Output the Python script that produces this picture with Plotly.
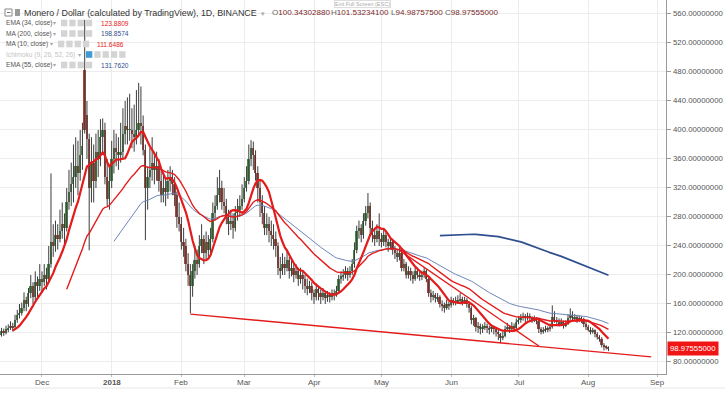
import numpy as np
import pandas as pd
import plotly.graph_objects as go

# ---------------- data (daily XMR candles) ----------------
start_date = "2017-11-09"
opens = [120,122,118,121,117,123,120,125,127,130,128,138,145,148,155,165,160,175,185,170,
         190,185,195,190,200,195,215,245,240,255,250,260,270,265,300,315,325,335,350,340,
         365,483,420,388,320,355,330,370,360,390,400,335,305,330,360,375,370,365,370,395,
         405,400,400,395,390,400,410,405,372,320,335,345,355,345,350,330,310,320,315,330,
         335,325,310,280,270,245,240,215,200,185,205,220,215,240,250,230,245,235,250,285,
         295,310,320,300,295,280,270,275,265,285,290,295,305,320,330,360,375,365,340,320,
         300,285,265,270,260,255,250,240,210,205,215,210,220,205,210,200,205,195,200,195,
         185,180,185,175,170,180,175,170,175,168,172,170,175,172,178,195,198,200,205,200,
         205,215,235,260,265,255,275,285,295,265,255,250,260,250,245,255,245,240,245,235,
         230,225,230,210,215,200,205,200,195,205,200,198,200,205,195,175,170,172,168,170,
         160,158,155,160,158,165,162,163,165,167,163,165,160,155,138,140,128,130,125,128,
         130,127,125,128,125,122,118,113,116,125,128,125,130,127,135,138,140,143,140,144,
         140,138,140,137,125,122,124,126,125,128,142,138,135,133,135,130,133,140,145,140,
         142,138,140,139,132,128,124,122,124,118,115,112,104,101,100.34302880]
highs = [126,124,125,123,127,126,130,132,136,134,145,152,160,162,176,170,182,200,190,205,
         198,215,205,215,210,240,340,270,275,270,290,300,285,320,345,355,380,390,385,400,
         410,552,440,395,390,380,395,400,415,416,410,360,350,385,400,395,390,410,430,440,
         445,450,430,435,455,465,460,420,380,350,375,390,370,370,360,345,340,335,345,350,
         345,335,315,300,280,265,250,230,215,215,240,235,255,270,255,260,255,265,300,310,
         335,345,330,320,305,290,290,285,295,305,310,325,335,350,380,386,384,372,350,330,
         310,295,285,280,275,270,260,245,225,230,225,235,225,220,215,215,210,210,205,200,
         195,192,190,180,188,185,180,182,178,178,176,180,180,185,200,205,208,212,210,212,
         222,245,268,275,270,285,295,313,300,275,265,270,285,258,262,260,250,252,250,240,
         236,238,232,222,218,212,210,205,210,210,205,206,210,208,197,180,178,175,175,172,
         165,162,166,163,170,168,170,172,175,170,170,168,162,157,145,142,135,133,132,135,
         133,130,132,130,128,125,120,122,130,134,131,135,133,140,143,146,148,146,148,147,
         143,144,142,139,128,128,130,129,133,158,150,142,140,140,137,137,146,154,150,146,
         145,144,143,141,135,131,128,127,125,121,117,114,106,103,101.53234100]
lows = [110,108,115,112,115,116,118,121,124,122,126,134,140,144,150,150,156,168,160,165,
        168,178,175,185,180,190,210,225,232,235,245,250,240,260,290,295,300,320,310,330,
        345,395,360,234,300,300,320,335,350,370,325,295,290,320,340,350,345,355,360,380,
        380,385,375,370,380,390,380,365,248,290,320,330,325,330,315,300,300,295,305,315,
        310,295,265,260,235,225,205,185,147,170,195,200,210,230,215,222,225,230,245,275,
        290,300,290,285,270,255,262,250,260,275,280,290,300,315,325,350,345,330,300,280,
        270,255,255,245,240,235,225,200,195,200,200,205,195,198,190,195,185,188,180,175,
        172,175,165,160,165,165,160,165,160,163,162,165,165,170,175,188,192,195,192,196,
        200,210,230,250,245,250,268,278,255,245,240,245,240,238,240,238,232,235,228,222,
        218,220,205,205,195,195,192,188,192,195,192,193,196,190,170,162,165,162,163,155,
        150,148,152,152,155,158,158,160,161,158,160,155,148,132,130,122,120,118,120,124,
        120,118,121,118,115,110,106,110,114,122,120,122,123,125,132,134,137,135,137,136,
        134,135,132,120,118,119,121,121,122,126,134,130,129,130,126,128,131,138,136,137,
        134,135,134,128,124,122,118,119,114,111,108,100,96,97,94.98757500]
closes = [122,118,121,117,123,120,125,127,130,128,138,145,148,155,165,160,175,185,170,190,
          185,195,190,200,195,215,245,240,255,250,260,270,265,300,315,325,335,350,340,365,
          378,400,388,320,355,330,370,360,390,400,335,305,330,360,375,370,365,370,395,405,
          400,400,395,390,400,410,405,372,320,335,345,355,345,350,330,310,320,315,330,335,
          325,310,280,270,245,240,215,200,185,205,220,215,240,250,230,245,235,250,285,295,
          310,320,300,295,280,270,275,265,285,290,295,305,320,330,360,375,365,340,320,300,
          285,265,270,260,255,250,240,210,205,215,210,220,205,210,200,205,195,200,195,185,
          180,185,175,170,180,175,170,175,168,172,170,175,172,178,195,198,200,205,200,205,
          215,235,260,265,255,275,285,295,265,255,250,260,250,245,255,245,240,245,235,230,
          225,230,210,215,200,205,200,195,205,200,198,200,205,195,175,170,172,168,170,160,
          158,155,160,158,165,162,163,165,167,163,165,160,155,138,140,128,130,125,128,130,
          127,125,128,125,122,118,113,116,125,128,125,130,127,135,138,140,143,140,144,140,
          138,140,137,125,122,124,126,125,128,142,138,135,133,135,130,133,140,145,140,142,
          138,140,139,132,128,124,122,124,118,115,112,104,101,100.34302880,98.97555000]

# drawn trend lines
trend1_dates = ["2018-02-05", "2018-08-29"]
trend1_prices = [146, 87]
trend2_dates = ["2018-05-09", "2018-07-10"]
trend2_prices = [234, 102]

# axis ticks
month_ticks = ["2017-12-01", "2018-01-01", "2018-02-01", "2018-03-01", "2018-04-01", "2018-05-01",
               "2018-06-01", "2018-07-01", "2018-08-01", "2018-09-01"]
month_labels = ["Dec", "<b>2018</b>", "Feb", "Mar", "Apr", "May", "Jun", "Jul", "Aug", "Sep"]
price_ticks = [80, 120, 160, 200, 240, 280, 320, 360, 400, 440, 480, 520, 560]

# legend texts
title_text = "Monero / Dollar (calculated by TradingView), 1D, BINANCE"
ohlc_labels = ["O", "H", "L", "C"]
ohlc_values = ["100.34302880", "101.53234100", "94.98757500", "98.97555000"]
ind_names = ["EMA (34, close)", "MA (200, close)", "MA (10, close)", "Ichimoku (9, 26, 52, 26)", "EMA (55, close)"]
ind_values = ["123.8809", "198.8574", "111.6486", "", "131.7620"]
last_price_text = "98.97555000"

# ---------------- computation ----------------
dates = pd.date_range(start_date, periods=len(closes), freq="D")
cs = pd.Series(closes, index=dates, dtype=float)


def ema(s, n):
    out = pd.Series(np.nan, index=s.index)
    alpha = 2.0 / (n + 1)
    val = s.iloc[:n].mean()
    out.iloc[n - 1] = val
    for i in range(n, len(s)):
        val = alpha * s.iloc[i] + (1 - alpha) * val
        out.iloc[i] = val
    return out


ma10 = cs.rolling(10).mean()
ma200 = cs.rolling(200).mean()
ema34 = ema(cs, 34)
ema55 = ema(cs, 55)

# wick segments and candle bodies
wx, wy = [], []
for d, lo, hi in zip(dates, lows, highs):
    wx += [d, d, None]
    wy += [lo, hi, None]
body_lo = [min(o, c) for o, c in zip(opens, closes)]
body_h = [max(abs(c - o), 1.2) for o, c in zip(opens, closes)]
body_col = ["#4d874d" if c >= o else "#a8483e" for o, c in zip(opens, closes)]

RED = "#e31b1b"
fig = go.Figure()
fig.add_trace(go.Scatter(x=wx, y=wy, mode="lines", line=dict(color="#3c3c3c", width=1), hoverinfo="skip"))
fig.add_trace(go.Bar(x=dates, y=body_h, base=body_lo, width=0.8 * 86400000,
                     marker=dict(color=body_col, line=dict(width=0)), hoverinfo="skip"))
fig.add_trace(go.Scatter(x=dates, y=ema55, mode="lines", line=dict(color="#6f86b8", width=1)))
fig.add_trace(go.Scatter(x=dates, y=ma200, mode="lines", line=dict(color="#2f4f8f", width=1.7)))
fig.add_trace(go.Scatter(x=dates, y=ema34, mode="lines", line=dict(color=RED, width=1.4)))
fig.add_trace(go.Scatter(x=dates, y=ma10, mode="lines", line=dict(color=RED, width=2.2)))
fig.add_trace(go.Scatter(x=pd.to_datetime(trend1_dates), y=trend1_prices, mode="lines",
                         line=dict(color=RED, width=1.4)))
fig.add_trace(go.Scatter(x=pd.to_datetime(trend2_dates), y=trend2_prices, mode="lines",
                         line=dict(color=RED, width=1.4)))

W, H = 666.0, 374.0
FONT = "Liberation Sans, Arial, sans-serif"


def P(x, y):
    return x / W, 1 - y / H


annotations = []
shapes = []


def text(x, y, s, size, color, anchor="left", **kw):
    px, py = P(x, y)
    annotations.append(dict(x=px, y=py, xref="paper", yref="paper", text=s, showarrow=False,
                            xanchor=anchor, yanchor="middle", font=dict(family=FONT, size=size, color=color), **kw))


def rect(x0, y0, x1, y1, fill, line=None):
    a, b = P(x0, y0)
    c, d = P(x1, y1)
    shapes.append(dict(type="rect", xref="paper", yref="paper", x0=a, y0=d, x1=c, y1=b,
                       fillcolor=fill, line=dict(width=1 if line else 0, color=line or fill), layer="above"))


# title row
rect(5, 9, 12, 16, "white", "#888")
shapes.append(dict(type="line", xref="paper", yref="paper", x0=P(7, 0)[0], x1=P(10.5, 0)[0],
                   y0=P(0, 12.5)[1], y1=P(0, 12.5)[1], line=dict(color="#777", width=1), layer="above"))
rect(15, 9, 20, 16, "#9a9a9a")
text(22, 12.5, title_text, 8.9, "#333")
text(259, 13, "▾", 7, "#aaa")
ohlc_x = [270, 329, 389, 443]
for xx, lab, val in zip(ohlc_x, ohlc_labels, ohlc_values):
    text(xx, 12.5, lab + "<span style='color:#7b2a2a'>" + val + "</span>", 8.1, "#666")

# indicator rows
row_y = [23, 33.5, 44, 54.5, 65]
arrow_x = [51, 51, 48, 76, 51]
icon_x0 = [61, 61, 58, 86, 61]
icon_n = [4, 4, 4, 5, 4]
val_x = [99, 99, 95, 0, 99]
val_col = ["#e31b1b", "#2f4f8f", "#e31b1b", "#000", "#2f4f8f"]
for k in range(5):
    y = row_y[k]
    col = "#c4c4c4" if k == 3 else "#555"
    text(4, y, ind_names[k], 6.6, col)
    text(arrow_x[k], y, "▾", 5.5, "#aaa")
    for j in range(icon_n[k]):
        x0 = icon_x0[k] + j * 8.3
        fill = "#3f9ad6" if (k == 3 and j == 0) else "#d4d4d4"
        rect(x0, y - 3.3, x0 + 6.3, y + 3.3, fill)
    if ind_values[k]:
        text(val_x[k], y, ind_values[k], 6.6, val_col[k])

# tooltip
text(362, 3.5, "Exit Full Screen (ESC)", 5.5, "#aaa", anchor="center",
     bgcolor="rgba(255,255,255,0.9)", bordercolor="#ddd", borderwidth=1, borderpad=0)

# x-axis month labels
for t, lab in zip(month_ticks, month_labels):
    annotations.append(dict(x=pd.Timestamp(t), y=1 - 382.5 / H, xref="x", yref="paper", text=lab,
                            showarrow=False, xanchor="center", yanchor="middle",
                            font=dict(family=FONT, size=8, color="#555")))

# y-axis price labels
for v in price_ticks:
    annotations.append(dict(x=671 / W, y=v, xref="paper", yref="y", text=f"{v:.8f}",
                            showarrow=False, xanchor="left", yanchor="middle",
                            font=dict(family=FONT, size=7.8, color="#555")))

# last price label
lp_y = 1 - (362 - (closes[-1] - 80) * 0.725) / H
annotations.append(dict(x=667 / W, y=lp_y, xref="paper", yref="paper", text=last_price_text,
                        showarrow=False, xanchor="left", yanchor="middle",
                        font=dict(family=FONT, size=7.8, color="white"),
                        bgcolor="#f01414", borderpad=2))

# bottom toolbar border
shapes.append(dict(type="line", xref="paper", yref="paper", x0=0, x1=725 / W,
                   y0=1 - 388 / H, y1=1 - 388 / H, line=dict(color="#e6e6e6", width=1)))

fig.update_layout(
    width=725, height=393,
    margin=dict(l=0, r=59, t=0, b=19, autoexpand=False),
    paper_bgcolor="white", plot_bgcolor="white",
    showlegend=False, hovermode=False, bargap=0,
    annotations=annotations, shapes=shapes,
    xaxis=dict(range=["2017-11-12 07:40", "2018-09-04 14:00"], rangeslider=dict(visible=False),
               tickvals=pd.to_datetime(month_ticks), showticklabels=False, automargin=False,
               showgrid=True, gridcolor="#ececec", gridwidth=1,
               showline=True, linecolor="#9a9a9a", linewidth=1,
               ticks="outside", ticklen=2, tickcolor="#bbb",
               zeroline=False, fixedrange=True),
    yaxis=dict(range=[63.4, 579.3], side="right", tickvals=price_ticks, showticklabels=False,
               automargin=False,
               showgrid=True, gridcolor="#ececec", gridwidth=1,
               showline=True, linecolor="#9a9a9a", linewidth=1,
               ticks="outside", ticklen=4, tickcolor="#9a9a9a",
               zeroline=False, fixedrange=True),
)

fig.write_html("out.html", config={"displayModeBar": False},
               post_script="document.body.style.margin='0';document.body.style.overflow='hidden';")
